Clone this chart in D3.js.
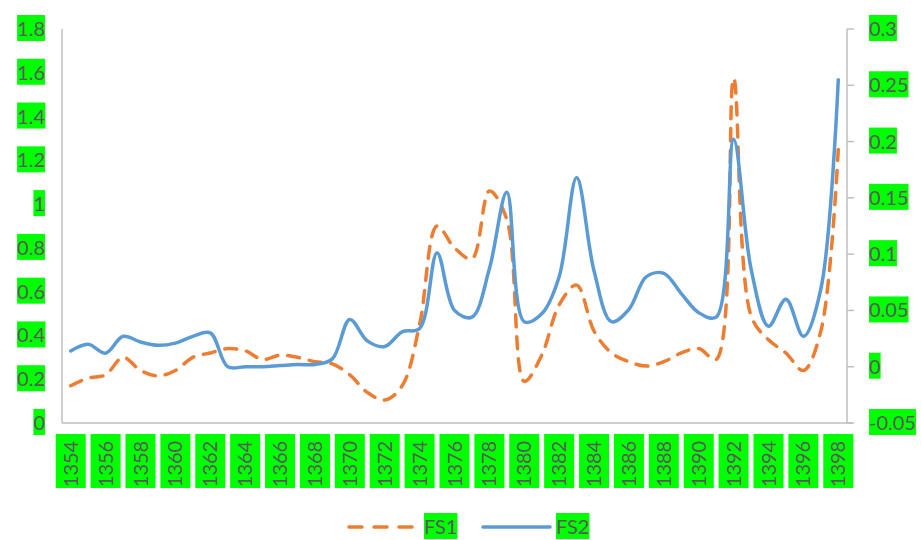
<!DOCTYPE html>
<html>
<head>
<meta charset="utf-8">
<script src="https://cdn.jsdelivr.net/npm/d3@7"></script>
<style>
body { margin: 0; background: #fff; }
text { font-family: Lato, "Open Sans", sans-serif; fill: #595959; }
</style>
</head>
<body>
<script>
var years = d3.range(1354, 1399);
var fs1 = [0.17,0.205,0.22,0.30,0.24,0.215,0.24,0.30,0.32,0.34,0.33,0.29,0.31,0.30,0.28,0.27,0.22,0.14,0.105,0.17,
           0.45,0.90,0.80,0.75,1.06,0.93,0.19,0.31,0.54,0.63,0.42,0.32,0.28,0.26,0.28,0.32,0.34,0.29,1.575,0.49,
           0.38,0.32,0.24,0.42,1.25];
var fs2 = [0.014,0.020,0.012,0.027,0.022,0.019,0.021,0.027,0.030,0.0,0.0,0.0,0.001,0.002,0.002,0.007,0.042,0.023,0.018,0.031,
           0.034,0.101,0.050,0.044,0.087,0.155,0.040,0.047,0.080,0.168,0.085,0.040,0.051,0.080,0.083,0.065,0.048,0.044,0.202,0.087,
           0.036,0.060,0.027,0.069,0.255];
var leftTicks = [0,0.2,0.4,0.6,0.8,1,1.2,1.4,1.6,1.8];
var rightTicks = [-0.05,0,0.05,0.1,0.15,0.2,0.25,0.3];

var W = 921, H = 540, L = 62, R = 847, T = 29, B = 423;
var svg = d3.select("body").append("svg").attr("width", W).attr("height", H);

var x = d3.scaleBand().domain(years).range([L, R]);
var yL = d3.scaleLinear().domain([0, 1.8]).range([B, T]);
var yR = d3.scaleLinear().domain([-0.05, 0.3]).range([B, T]);

function greenBox(sel) {
  sel.each(function() {
    var b = this.getBBox();
    var p = this.parentNode;
    d3.select(p).insert("rect", function() { return p.firstChild; })
      .attr("x", b.x).attr("y", b.y - 1).attr("width", b.width).attr("height", b.height + 2)
      .attr("fill", "#00ff00");
  });
}

// axes lines
svg.append("line").attr("x1", L).attr("x2", L).attr("y1", T).attr("y2", B).attr("stroke", "#bfbfbf").attr("stroke-width", 1.5);
svg.append("line").attr("x1", L).attr("x2", R + 6).attr("y1", B).attr("y2", B).attr("stroke", "#bfbfbf").attr("stroke-width", 1.5);
svg.append("line").attr("x1", R).attr("x2", R).attr("y1", T).attr("y2", B).attr("stroke", "#bfbfbf").attr("stroke-width", 1.5);
svg.selectAll(".rt").data(rightTicks).enter().append("line")
  .attr("x1", R).attr("x2", R + 7).attr("y1", d => yR(d)).attr("y2", d => yR(d))
  .attr("stroke", "#bfbfbf").attr("stroke-width", 1.5);

// left labels
var gl = svg.selectAll(".lt").data(leftTicks).enter().append("g");
gl.append("text").attr("x", 45).attr("y", d => yL(d)).attr("dy", "0.35em")
  .attr("text-anchor", "end").attr("font-size", 20).text(d => d)
  .call(greenBox);
// right labels
var gr = svg.selectAll(".rtl").data(rightTicks).enter().append("g");
gr.append("text").attr("x", 869).attr("y", d => yR(d)).attr("dy", "0.35em")
  .attr("font-size", 20).text(d => d)
  .call(greenBox);

// x labels every 2 years
var gx = svg.selectAll(".xl").data(years.filter(d => d % 2 === 0)).enter().append("g")
  .attr("transform", d => "translate(" + (x(d) + x.bandwidth() / 2) + ",461) rotate(-90)");
gx.append("rect").attr("x", -27).attr("y", -15).attr("width", 54).attr("height", 30).attr("fill", "#00ff00");
gx.append("text").attr("x", -3).attr("text-anchor", "middle").attr("dy", "0.35em").attr("font-size", 20).text(d => d);

var cx = d => x(d) + x.bandwidth() / 2;
var line1 = d3.line().x((d, i) => cx(years[i])).y(d => yL(d)).curve(d3.curveCatmullRom.alpha(0.5));
var line2 = d3.line().x((d, i) => cx(years[i])).y(d => yR(d)).curve(d3.curveCatmullRom.alpha(0.5));

svg.append("path").datum(fs1).attr("d", line1).attr("fill", "none")
  .attr("stroke", "#ed7d31").attr("stroke-width", 3.5).attr("stroke-dasharray", "12,10").attr("stroke-linecap", "round");
svg.append("path").datum(fs2).attr("d", line2).attr("fill", "none")
  .attr("stroke", "#5b9bd5").attr("stroke-width", 3.5).attr("stroke-linecap", "round");

// legend
var lg = svg.append("g");
lg.append("line").attr("x1", 349).attr("x2", 418).attr("y1", 527).attr("y2", 527)
  .attr("stroke", "#ed7d31").attr("stroke-width", 3.5).attr("stroke-dasharray", "13,12").attr("stroke-linecap", "round");
lg.append("g").append("text").attr("x", 424).attr("y", 527).attr("dy", "0.35em").attr("font-size", 20).text("FS1").call(greenBox);
lg.append("line").attr("x1", 483).attr("x2", 550).attr("y1", 527).attr("y2", 527)
  .attr("stroke", "#5b9bd5").attr("stroke-width", 3.5).attr("stroke-linecap", "round");
lg.append("g").append("text").attr("x", 556).attr("y", 527).attr("dy", "0.35em").attr("font-size", 20).text("FS2").call(greenBox);
</script>
</body>
</html>
